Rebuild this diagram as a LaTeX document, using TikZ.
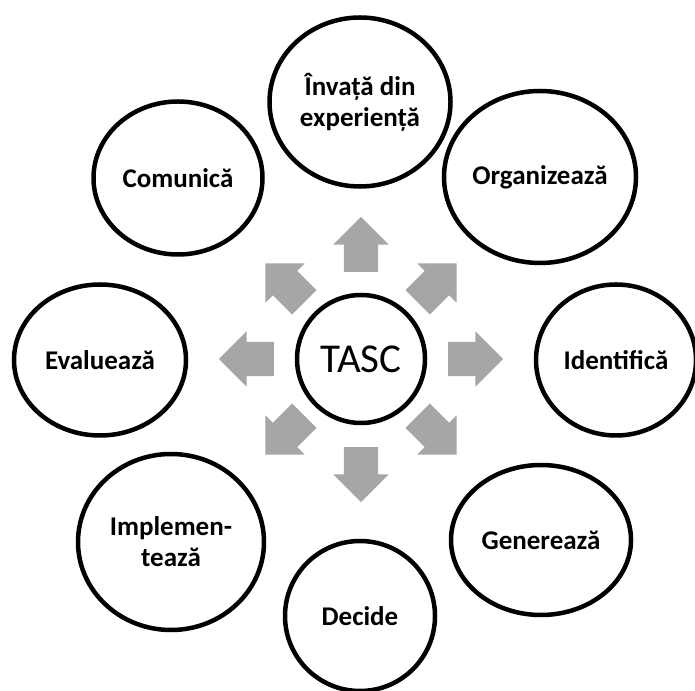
\documentclass[tikz,border=0pt]{standalone}
\usepackage{fontspec}
\setmainfont{Carlito}
\usetikzlibrary{positioning,calc,shapes.geometric,shapes.arrows}
\definecolor{arrowgray}{RGB}{166,166,166}
\tikzset{
    every node/.style={font=\fontsize{27}{31}\selectfont\bfseries},
    stage/.style={draw, ellipse, line width=4.5pt, align=center, inner sep=0pt},
    hub/.style={draw, circle, line width=4.5pt, minimum size=128pt, inner sep=0pt, font=\fontsize{41}{45}\selectfont},
    blockarrow/.style={single arrow, fill=arrowgray, minimum height=55pt, single arrow head extend=10.5pt, inner xsep=0pt, inner ysep=17pt},
}
\begin{document}
\begin{tikzpicture}[x=1pt,y=1pt]
\useasboundingbox (0,0) rectangle (695,690);
% the central circle
\node[hub] (tasc) at (361,331) {TASC};
% the eight stages round it
\node[stage, minimum width=181pt, minimum height=169pt] (learn) at (360,588) {Învață din\\experiență};
\node[stage, minimum width=192pt, minimum height=172pt] (organize) at (540,513) {Organizează};
\node[stage, minimum width=160pt, minimum height=151pt] (identify) at (616,330) {Identifică};
\node[stage, minimum width=180pt, minimum height=150pt] (generate) at (541,150) {Generează};
\node[stage, minimum width=150pt, minimum height=150pt] (decide) at (360,74) {Decide};
\node[stage, minimum width=186pt, minimum height=176pt] (implement) at (171,148) {Implemen-\\tează};
\node[stage, minimum width=172pt, minimum height=151pt] (evaluate) at (100,330) {Evaluează};
\node[stage, minimum width=169pt, minimum height=153pt] (communicate) at (178,512) {Comunică};
% gray block arrows pointing out of the centre
\foreach \ang/\dist in {0/106, 45/99, 90/106, 135/99, 180/106, 225/99, 270/107, 315/99}
    \node[blockarrow, rotate=\ang] (arr\ang) at ($(tasc)+(\ang:\dist)$) {};
\end{tikzpicture}
\end{document}
